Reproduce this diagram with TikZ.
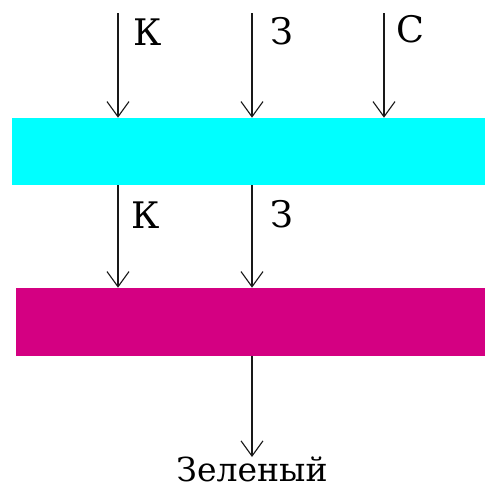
\documentclass[tikz,border=0pt]{standalone}
\usepackage{fontspec}
\setmainfont{DejaVu Serif}
\newfontfamily\rayfont{DejaVu Serif}
\usetikzlibrary{arrows.meta,positioning}
\definecolor{filtercyan}{RGB}{0,255,255}
\definecolor{filtermagenta}{RGB}{212,0,130}
\tikzset{filterband/.style={rectangle, draw=none, inner sep=0pt}}
\tikzset{lightray/.style={-{Straight Barb[length=3.8mm,width=5.5mm,line width=0.8pt]}, line width=0.8pt, draw=black!90}}
\tikzset{raylabel/.style={font=\rayfont\fontsize{26}{30}\selectfont, anchor=base west, inner sep=0pt}}

\begin{document}
\begin{tikzpicture}[x=0.025cm, y=-0.025cm]
  \useasboundingbox (0,0) rectangle (485,496);
  % filters
  \node[filterband, fill=filtercyan, minimum width=11.825cm, minimum height=1.675cm] (cyan) at (248.5,151.5) {};
  \node[filterband, fill=filtermagenta, minimum width=11.725cm, minimum height=1.7cm] (magenta) at (250.5,322) {};
  % incoming light
  \coordinate (kin) at (118,13);
  \coordinate (zin) at (252,13);
  \coordinate (sin) at (384,13);
  \draw[lightray] (kin) -- (kin |- cyan.north);
  \draw[lightray] (zin) -- (zin |- cyan.north);
  \draw[lightray] (sin) -- (sin |- cyan.north);
  \node[raylabel] (k1) at (133,45) {К};
  \node[raylabel] (z1) at (270,44) {З};
  \node[raylabel] (s1) at (396,42) {С};
  % after the cyan filter
  \draw[lightray] (cyan.south -| kin) -- (magenta.north -| kin);
  \draw[lightray] (cyan.south -| zin) -- (magenta.north -| zin);
  \node[raylabel] (k2) at (131,228) {К};
  \node[raylabel] (z2) at (270,227) {З};
  % after the magenta filter
  \node[font=\rayfont\fontsize{23.5}{28}\selectfont, anchor=north, inner sep=0pt] (green) at (252,457) {Зеленый};
  \draw[lightray] (magenta.south -| zin) -- (green.north);
\end{tikzpicture}
\end{document}
